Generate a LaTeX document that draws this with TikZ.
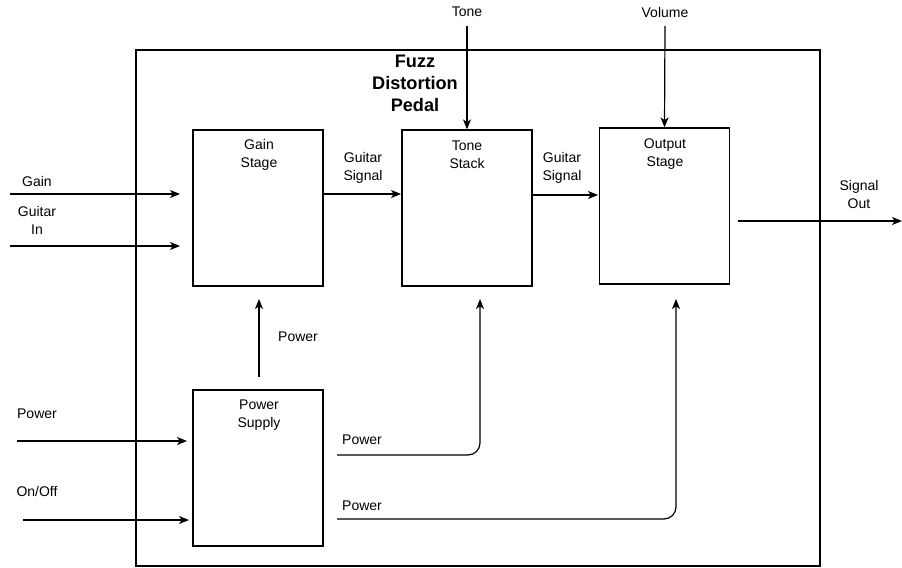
\documentclass[tikz,border=0pt]{standalone}
\usepackage{fontspec}
\setmainfont{Liberation Sans}
\usetikzlibrary{arrows.meta}
\begin{document}
\begin{tikzpicture}[x=0.75pt,y=-0.75pt,
  blk/.style={draw, line width=0.9pt, minimum width=97.5pt, minimum height=117pt, inner sep=0pt},
  lbl/.style={font=\fontsize{10.5}{13.5}\selectfont, align=center, inner sep=0pt},
  ttl/.style={font=\fontsize{13.6}{16.5}\selectfont\bfseries, align=center, inner sep=0pt},
  conn/.style={line width=0.9pt, -{Stealth[length=7.5pt,width=6pt,inset=2pt]}},
  wire/.style={line width=0.9pt}]
\useasboundingbox (0,0) rectangle (902,567);
\node[draw, line width=0.9pt, minimum width=513pt, minimum height=387pt, inner sep=0pt] (outer) at (478,308) {};
% blocks (text placed at top)
\node[blk] (gain) at (258,208) {};
\node[blk] (tone) at (467,208) {};
\node[blk] (out) at (664.5,206) {};
\node[blk] (psu) at (258,468) {};
\node[lbl] (gaint) at (259,155) {Gain\\Stage};
\node[lbl] (tonet) at (467,155) {Tone\\Stack};
\node[lbl] (outt) at (665,154) {Output\\Stage};
\node[lbl] (psut) at (259,415) {Power\\Supply};
\node[ttl] (title) at (415,83) {Fuzz\\Distortion\\Pedal};
% coordinates
\coordinate (gainin) at (10,194);
\coordinate (gainend) at (180,194);
\coordinate (gtin) at (10,246);
\coordinate (gtend) at (180,246);
\coordinate (pin) at (17,441);
\coordinate (pend) at (187,441);
\coordinate (oin) at (23,520);
\coordinate (oend) at (189,520);
\coordinate (tonesrc) at (467,26);
\coordinate (volsrc) at (665,26);
\coordinate (sout) at (902,221);
\coordinate (p1s) at (337,455);
\coordinate (p2s) at (337,519);
% labels
\node[lbl] (lgain) at (37,181) {Gain};
\node[lbl] (lgt) at (37,220) {Guitar\\In};
\node[lbl] (lpow) at (37,414) {Power};
\node[lbl] (lonoff) at (37,491) {On/Off};
\node[lbl] (ltone) at (467,12) {Tone};
\node[lbl] (lvol) at (665,12) {Volume};
\node[lbl] (lgs1) at (363,168) {Guitar\\Signal};
\node[lbl] (lgs2) at (562,168) {Guitar\\Signal};
\node[lbl] (lsout) at (859,194) {Signal\\Out};
\node[lbl] (lpup) at (298,337) {Power};
\node[lbl] (lp1) at (362,440) {Power};
\node[lbl] (lp2) at (362,506) {Power};
% connectors
\draw[conn] (gainin) -- (gainend);
\draw[conn] (gtin) -- (gtend);
\draw[conn] (pin) -- (pend);
\draw[conn] (oin) -- (oend);
\draw[conn] (gain.east |- 0,194) -- (401,194);
\draw[conn] (tone.east |- 0,195) -- (598,195);
\draw[conn] (tonesrc) -- (tone.north);
\draw[conn] (volsrc) -- (out.north);
\draw[conn] (738,221) -- (sout);
\draw[conn] (259,377) -- (259,299);
\draw[conn, rounded corners=9pt] (p1s) -- (480,455) -- (480,299);
\draw[conn, rounded corners=9pt] (p2s) -- (676,519) -- (676,299);
\end{tikzpicture}
\end{document}
